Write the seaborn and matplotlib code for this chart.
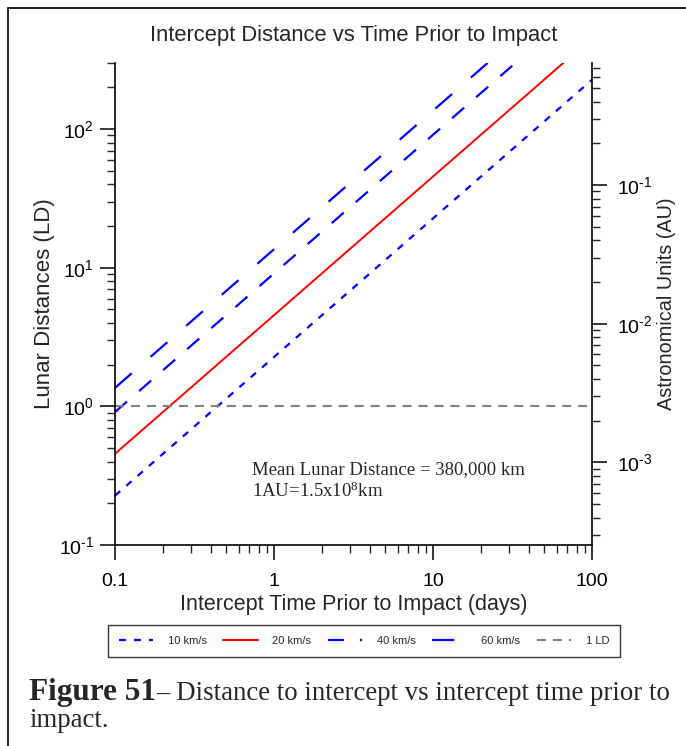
import numpy as np
import pandas as pd
import matplotlib
matplotlib.use("Agg")
import matplotlib.pyplot as plt
import seaborn as sns
from matplotlib.patches import Rectangle
from matplotlib.ticker import LogLocator, NullFormatter, FuncFormatter

# days before impact, distance in lunar distances
time_days = [0.1, 1, 10, 100]
dist_10 = [0.227, 2.27, 22.7, 227]
dist_20 = [0.455, 4.55, 45.5, 455]
dist_40 = [0.91, 9.1, 91, 910]
dist_60 = [1.36, 13.6, 136, 1360]
one_ld = [1, 1, 1, 1]

speeds = ['10 km/s', '20 km/s', '40 km/s', '60 km/s', '1 LD']
series = [dist_10, dist_20, dist_40, dist_60, one_ld]
colors = ['#0000ff', '#ff0000', '#0000ff', '#0000ff', '#808080']
styles = [(0, (5, 5.8)), '-', (0, (11.5, 11.5)), (0, (16, 18)), (0, (6.5, 5))]
widths = [1.6, 1.4, 1.6, 1.6, 1.5]

LD_KM = 380000
AU_KM = 1.5e8

sns.set_style('white')
plt.rcParams['font.family'] = ['Liberation Sans', 'DejaVu Sans']
plt.rcParams['mathtext.default'] = 'regular'
plt.rcParams['axes.unicode_minus'] = False
plt.rcParams['lines.scale_dashes'] = False


def pow_label(v, pos):
    e = int(round(np.log10(v)))
    return '$10^{%s}$' % str(e).replace('-', '\u2010')


fig = plt.figure(figsize=(6.86, 7.46), dpi=100)
ax = fig.add_axes([115/686, 1 - 545/746, 477/686, 482/746])

for name, vals, c, ls, lw in zip(speeds, series, colors, styles, widths):
    df = pd.DataFrame({'t': time_days, 'd': vals})
    sns.lineplot(data=df, x='t', y='d', color=c, linestyle=ls, linewidth=lw,
                 label=name, ax=ax, legend=False)

ax.set_xscale('log')
ax.set_yscale('log')
ax.set_xlim(0.1, 100)
ax.set_ylim(0.1, 300)
ax.set_xticks([0.1, 1, 10, 100])
ax.set_xticklabels(['0.1', '1', '10', '100'])
ax.xaxis.set_minor_locator(LogLocator(subs=np.arange(2, 10)))
ax.xaxis.set_minor_formatter(NullFormatter())
ax.yaxis.set_major_locator(LogLocator(numticks=10))
ax.yaxis.set_major_formatter(FuncFormatter(pow_label))
ax.yaxis.set_minor_locator(LogLocator(subs=np.arange(2, 10), numticks=10))
ax.yaxis.set_minor_formatter(NullFormatter())

for s in ['top', 'right']:
    ax.spines[s].set_visible(False)
for s in ['left', 'bottom']:
    ax.spines[s].set_color('black')
    ax.spines[s].set_linewidth(1.2)
ax.tick_params(which='major', direction='out', length=11, width=1.1, labelsize=14,
               colors='black', left=True, bottom=True)
ax.tick_params(axis='x', which='major', pad=9)
ax.tick_params(axis='y', which='major', pad=4)
ax.tick_params(which='minor', direction='out', length=6, width=1, left=True, bottom=True)

ax.set_xlabel('Intercept Time Prior to Impact (days)', fontsize=15.5, labelpad=3)
ax.set_ylabel('Lunar Distances (LD)', fontsize=16, labelpad=3)
ax.set_title('Intercept Distance vs Time Prior to Impact', fontsize=15.8, pad=16)

# right axis in astronomical units
ax2 = ax.twinx()
ax2.set_yscale('log')
ax2.set_ylim(0.1 * LD_KM / AU_KM, 300 * LD_KM / AU_KM)
ax2.yaxis.set_major_locator(LogLocator(numticks=10))
ax2.yaxis.set_major_formatter(FuncFormatter(pow_label))
ax2.yaxis.set_minor_locator(LogLocator(subs=np.arange(2, 10), numticks=10))
ax2.yaxis.set_minor_formatter(NullFormatter())
for s in ['top', 'left', 'bottom']:
    ax2.spines[s].set_visible(False)
ax2.spines['right'].set_color('black')
ax2.spines['right'].set_linewidth(1.2)
ax2.tick_params(which='major', direction='out', length=11, width=1.1, labelsize=14,
                colors='black', pad=7, right=True)
ax2.tick_params(which='minor', direction='out', length=6, width=1, right=True)
ax2.set_ylabel('Astronomical Units (AU)', fontsize=14.3, labelpad=3)
ax2.grid(False)
ax.grid(False)

ax.text(0.288, 0.133, 'Mean Lunar Distance = 380,000 km\n1AU=1.5x10$^8$km',
        transform=ax.transAxes, fontsize=13.5, family=['Liberation Serif'],
        linespacing=1.2, va='center', ha='left')

handles, labels = ax.get_legend_handles_labels()
leg = fig.legend(handles, labels, loc='center', bbox_to_anchor=(364/686, 1 - 641/746),
                 ncol=5, fontsize=8, frameon=True, fancybox=False, handlelength=3.1,
                 columnspacing=1.5, handletextpad=1.3, borderpad=1.0,
                 borderaxespad=0)
leg.get_frame().set_edgecolor('black')
leg.get_frame().set_linewidth(1.0)

fig.patches.append(Rectangle((8/686, -0.05), 1.0, 1 - 8/746 + 0.05, transform=fig.transFigure,
                             fill=False, edgecolor='black', linewidth=1.2))

cap1 = fig.text(29/686, 1 - 700/746, 'Figure 51', fontsize=22.5, weight='bold',
                family=['Liberation Serif'])
fig.canvas.draw()
bb = cap1.get_window_extent()
fig.text(bb.x1 / fig.bbox.width, 1 - 700/746,
         '\u2013 Distance to intercept vs intercept time prior to',
         fontsize=19.3, family=['Liberation Serif'])
fig.text(29/686, 1 - 727/746, 'impact.', fontsize=19.3, family=['Liberation Serif'])

fig.savefig('out.png', dpi=100)
